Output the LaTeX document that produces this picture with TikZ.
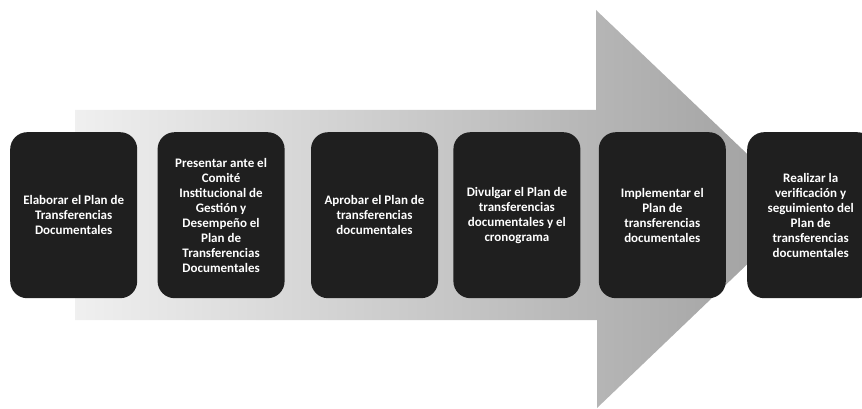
\documentclass[tikz,border=0pt]{standalone}
\usepackage{fontspec}
\setmainfont{Carlito}
\usetikzlibrary{positioning}

\begin{document}
\begin{tikzpicture}[
    x=1pt, y=-1pt,
    stepbox/.style={rectangle, rounded corners=17pt, fill=black!88, text=white, font=\bfseries\fontsize{13}{15}\selectfont, align=center, minimum width=127pt, minimum height=166pt, inner sep=1pt}
    ]
        \useasboundingbox (0,0) rectangle (862,409);

        %Arrow
        \shade[left color=black!6, right color=black!38]
            (75,110) -- (596,110) -- (596,10) -- (805,209) -- (597,408) -- (597,320) -- (75,320) -- cycle;

        %Nodes
        \node[stepbox, anchor=north west]
            (s1)    at (10,132)      {Elaborar el Plan de\\Transferencias\\Documentales};
        \node[stepbox]
            (s2)    [right=20pt of s1]   {Presentar ante el\\Comité\\Institucional de\\Gestión y\\Desempeño el\\Plan de\\Transferencias\\Documentales};
        \node[stepbox]
            (s3)    [right=26pt of s2]   {Aprobar el Plan de\\transferencias\\documentales};
        \node[stepbox]
            (s4)    [right=15pt of s3]   {Divulgar el Plan de\\transferencias\\documentales y el\\cronograma};
        \node[stepbox]
            (s5)    [right=18pt of s4]   {Implementar el\\Plan de\\transferencias\\documentales};
        \node[stepbox]
            (s6)    [right=21pt of s5]   {Realizar la\\verificación y\\seguimiento del\\Plan de\\transferencias\\documentales};
    \end{tikzpicture}
\end{document}
